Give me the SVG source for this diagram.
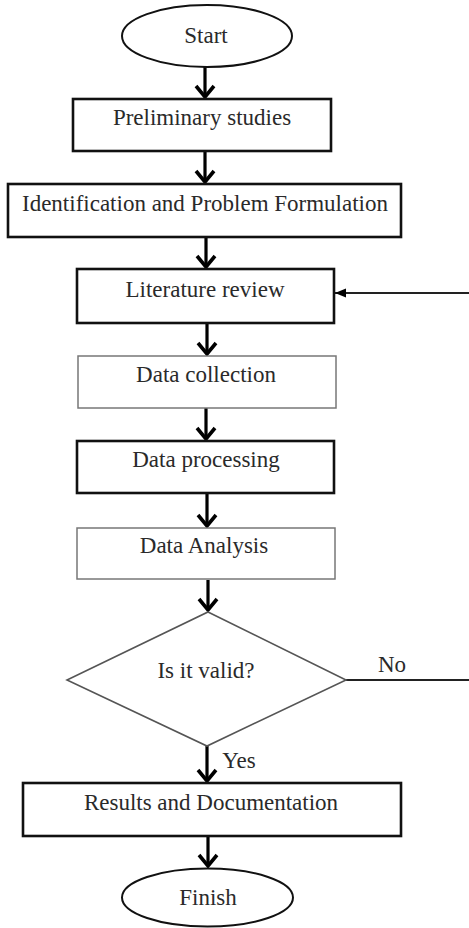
<svg xmlns="http://www.w3.org/2000/svg" width="469" height="928" viewBox="0 0 469 928">
<style>
  text { font-family: "Liberation Serif", "Times New Roman", serif; font-size: 23px; fill: #2a2a2a; text-anchor: middle; }
  .thick { fill: #fff; stroke: #111; stroke-width: 2.6; }
  .thin { fill: #fff; stroke: #777; stroke-width: 1.5; }
  .dia { fill: #fff; stroke: #555; stroke-width: 1.6; }
  .flow { stroke: #000; stroke-width: 3.2; fill: none; marker-end: url(#chev); }
  .side { stroke: #222; stroke-width: 2; fill: none; }
</style>
<defs>
  <marker id="chev" markerUnits="userSpaceOnUse" viewBox="-14 -12 18 24" refX="0" refY="0" markerWidth="18" markerHeight="24" orient="auto" overflow="visible">
    <path d="M -11 -9 L 0 0 L -11 9" fill="none" stroke="#000" stroke-width="3.6" stroke-linejoin="miter"/>
  </marker>
  <marker id="tri" markerUnits="userSpaceOnUse" viewBox="-11 -5 12 10" refX="0" refY="0" markerWidth="12" markerHeight="10" orient="auto" overflow="visible">
    <path d="M 0 0 L -11 -4.5 L -11 4.5 Z" fill="#000"/>
  </marker>
</defs>

<g id="connectors">
  <line class="flow" x1="205" y1="67" x2="205" y2="97"/>
  <line class="flow" x1="205" y1="152" x2="205" y2="182"/>
  <line class="flow" x1="206" y1="238" x2="206" y2="267"/>
  <line class="flow" x1="207" y1="324" x2="207" y2="354"/>
  <line class="flow" x1="206" y1="408" x2="206" y2="439"/>
  <line class="flow" x1="207" y1="494" x2="207" y2="526"/>
  <line class="flow" x1="208" y1="580" x2="208" y2="610"/>
  <line class="flow" x1="207" y1="746" x2="207" y2="781"/>
  <line class="flow" x1="208" y1="837" x2="208" y2="866"/>
  <line class="side" x1="469" y1="293" x2="335" y2="293" marker-end="url(#tri)"/>
  <line class="side" x1="346" y1="680" x2="469" y2="680"/>
  <text x="392" y="672">No</text>
  <text x="239" y="768">Yes</text>
</g>

<g id="start">
  <ellipse cx="207" cy="36" rx="85" ry="31" fill="#fff" stroke="#111" stroke-width="2"/>
  <text x="206" y="43">Start</text>
</g>

<g id="preliminary">
  <rect class="thick" x="73" y="99" width="258" height="52"/>
  <text x="202" y="125">Preliminary studies</text>
</g>

<g id="identification">
  <rect class="thick" x="8" y="184" width="393" height="53"/>
  <text x="205" y="211">Identification and Problem Formulation</text>
</g>

<g id="literature">
  <rect class="thick" x="77" y="269" width="257" height="54"/>
  <text x="205" y="297">Literature review</text>
</g>

<g id="collection">
  <rect class="thin" x="78" y="356" width="258" height="52"/>
  <text x="206" y="382">Data collection</text>
</g>

<g id="processing">
  <rect class="thick" x="77" y="441" width="257" height="52"/>
  <text x="206" y="467">Data processing</text>
</g>

<g id="analysis">
  <rect class="thin" x="77" y="528" width="258" height="51"/>
  <text x="204" y="553">Data Analysis</text>
</g>

<g id="decision">
  <polygon class="dia" points="208,612 346,680 207,746 67,680"/>
  <text x="206" y="678">Is it valid?</text>
</g>

<g id="results">
  <rect class="thick" x="23" y="783" width="378" height="53"/>
  <text x="211" y="810">Results and Documentation</text>
</g>

<g id="finish">
  <ellipse cx="207.5" cy="897.5" rx="85.5" ry="29" fill="#fff" stroke="#111" stroke-width="2"/>
  <text x="208" y="905">Finish</text>
</g>
</svg>
